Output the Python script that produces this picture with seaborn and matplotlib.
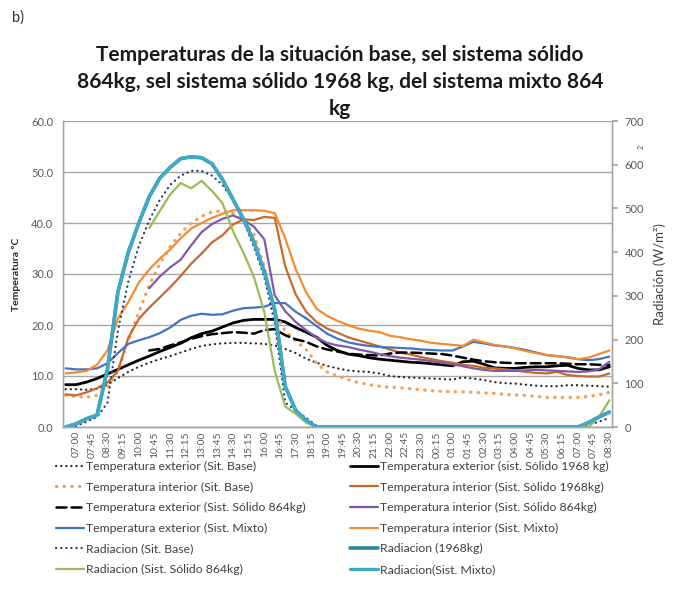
import numpy as np
import matplotlib
matplotlib.use("Agg")
import matplotlib.pyplot as plt
import seaborn as sns

nan = np.nan

# horas cada 30 min, de 06:30 a 08:30 del dia siguiente
horas = ["06:30", "07:00", "07:30", "08:00", "08:30", "09:00", "09:30", "10:00", "10:30",
         "11:00", "11:30", "12:00", "12:30", "13:00", "13:30", "14:00", "14:30", "15:00",
         "15:30", "16:00", "16:30", "17:00", "17:30", "18:00", "18:30", "19:00", "19:30",
         "20:00", "20:30", "21:00", "21:30", "22:00", "22:30", "23:00", "23:30", "00:00",
         "00:30", "01:00", "01:30", "02:00", "02:30", "03:00", "03:30", "04:00", "04:30",
         "05:00", "05:30", "06:00", "06:30", "07:00", "07:30", "08:00", "08:30"]

etiquetas = ["07:00", "07:45", "08:30", "09:15", "10:00", "10:45", "11:30", "12:15", "13:00",
             "13:45", "14:30", "15:15", "16:00", "16:45", "17:30", "18:15", "19:00", "19:45",
             "20:30", "21:15", "22:00", "22:45", "23:30", "00:15", "01:00", "01:45", "02:30",
             "03:15", "04:00", "04:45", "05:30", "06:15", "07:00", "07:45", "08:30"]

# temperaturas (ºC)
t_ext_base = [7.4, 7.4, 7.3, 7.5, 8.3, 9.6, 10.8, 11.8, 12.6, 13.3, 13.9, 14.6, 15.3, 15.9,
              16.2, 16.4, 16.5, 16.5, 16.4, 16.3, 16.0, 15.3, 14.5, 13.4, 12.6, 12.0, 11.5,
              11.1, 10.9, 10.8, 10.5, 10.0, 9.8, 9.7, 9.6, 9.5, 9.4, 9.3, 9.7, 9.5, 9.2, 8.8,
              8.6, 8.5, 8.3, 8.1, 8.0, 8.0, 8.2, 8.2, 8.1, 8.0, 7.9]
t_int_base = [6.2, 6.0, 5.8, 6.2, 7.8, 11.0, 17.0, 22.5, 27.8, 32.0, 35.3, 38.0, 40.0, 41.3,
              42.2, 42.4, 41.9, 40.6, 37.8, 31.5, 22.5, 18.8, 16.9, 15.2, 12.5, 10.8, 10.0,
              9.3, 8.7, 8.3, 8.0, 7.8, 7.7, 7.5, 7.3, 7.1, 7.0, 6.9, 6.9, 6.8, 6.7, 6.6, 6.4,
              6.3, 6.2, 6.0, 5.8, 5.8, 5.8, 5.8, 6.0, 6.3, 6.8]
t_ext_864 = [nan, nan, nan, nan, nan, nan, nan, nan, 15.0, 15.3, 16.0, 16.6, 17.3, 17.8,
             18.2, 18.4, 18.6, 18.5, 18.3, 19.0, 19.2, 18.0, 17.2, 16.7, 15.8, 15.2, 14.8,
             14.4, 14.2, 14.1, 14.0, 14.4, 14.6, 14.6, 14.5, 14.4, 14.3, 14.0, 13.6, 13.2,
             12.9, 12.7, 12.6, 12.5, 12.5, 12.5, 12.5, 12.5, 12.4, 12.3, 12.3, 12.2, 12.2]
t_ext_mixto = [11.5, 11.3, 11.3, 11.5, 12.5, 14.5, 16.3, 17.0, 17.6, 18.4, 19.5, 21.0, 21.8,
               22.2, 22.0, 22.1, 22.8, 23.3, 23.4, 23.6, 24.3, 24.3, 22.6, 21.3, 19.8, 18.3,
               17.3, 16.6, 16.2, 15.9, 15.7, 15.6, 15.5, 15.4, 15.2, 15.1, 15.0, 15.0, 15.8,
               16.7, 16.4, 16.0, 15.8, 15.5, 15.1, 14.6, 14.1, 13.9, 13.7, 13.3, 13.1, 13.3, 13.8]
t_ext_1968 = [8.3, 8.3, 8.8, 9.5, 10.4, 11.3, 12.2, 13.1, 13.9, 14.8, 15.6, 16.4, 17.5, 18.3,
              18.8, 19.6, 20.4, 20.9, 21.1, 21.1, 21.1, 20.6, 19.5, 18.6, 17.6, 16.0, 15.0,
              14.3, 14.0, 13.6, 13.3, 13.1, 12.9, 12.7, 12.6, 12.4, 12.2, 12.0, 12.8, 12.9,
              12.3, 11.6, 11.5, 11.5, 11.7, 11.8, 11.8, 12.0, 12.1, 11.5, 11.2, 11.2, 11.8]
t_int_1968 = [6.4, 6.2, 6.8, 7.6, 8.7, 11.0, 17.5, 21.2, 23.4, 25.4, 27.4, 29.6, 32.0, 34.0,
              36.2, 37.6, 39.7, 40.7, 40.6, 41.2, 41.0, 31.5, 26.0, 22.6, 20.6, 19.3, 18.5,
              17.6, 17.0, 16.4, 15.8, 15.2, 14.6, 14.2, 13.7, 13.3, 12.9, 12.6, 12.2, 12.0,
              11.6, 11.5, 11.3, 11.1, 10.8, 10.6, 10.5, 10.8, 10.2, 10.0, 9.9, 9.9, 10.5]
t_int_864 = [nan, nan, nan, nan, nan, nan, nan, nan, 27.2, 29.5, 31.3, 32.8, 35.6, 38.2, 39.8,
             40.8, 41.5, 40.6, 39.3, 36.8, 25.8, 22.7, 20.6, 19.0, 17.5, 16.5, 16.0, 15.7,
             15.2, 14.8, 14.3, 13.9, 13.6, 13.4, 13.2, 12.9, 12.6, 12.3, 11.9, 11.5, 11.2,
             11.0, 11.0, 11.0, 11.1, 11.2, 11.1, 11.0, 10.9, 10.8, 10.9, 11.3, 12.8]
t_int_mixto = [10.5, 10.7, 11.0, 12.2, 15.0, 21.3, 24.5, 28.3, 30.9, 33.0, 34.8, 37.0, 38.9,
               40.0, 41.0, 41.8, 42.5, 42.5, 42.5, 42.4, 41.9, 37.0, 31.0, 26.4, 23.2, 21.8,
               20.8, 20.0, 19.3, 18.9, 18.6, 17.9, 17.6, 17.2, 16.9, 16.5, 16.3, 16.1, 15.9,
               17.1, 16.6, 16.1, 15.8, 15.4, 14.9, 14.5, 14.1, 13.9, 13.6, 13.3, 13.6, 14.3, 15.0]

# radiacion (W/m2)
rad_base = [0, 2, 12, 23, 55, 220, 333, 414, 473, 519, 554, 575, 586, 586, 575, 554, 519,
            473, 412, 344, 237, 56, 38, 21, 3, 0, 0, 0, 0, 0, 0, 0, 0, 0, 0, 0, 0, 0, 0, 0,
            0, 0, 0, 0, 0, 0, 0, 0, 0, 0, 4, 12, 21]
rad_1968 = [0, 7, 19, 27, 132, 309, 400, 467, 527, 569, 594, 614, 618, 616, 602, 566, 521,
            476, 424, 355, 268, 93, 38, 15, 0, 0, 0, 0, 0, 0, 0, 0, 0, 0, 0, 0, 0, 0, 0, 0,
            0, 0, 0, 0, 0, 0, 0, 0, 0, 0, 10, 23, 34]
rad_864 = [nan, nan, nan, nan, nan, nan, nan, nan, 455, 494, 532, 558, 546, 563, 540, 512,
           448, 399, 344, 263, 128, 47, 30, 10, 0, 0, 0, 0, 0, 0, 0, 0, 0, 0, 0, 0, 0, 0, 0,
           0, 0, 0, 0, 0, 0, 0, 0, 0, 0, 0, 0, 23, 61]
rad_mixto = [0, 7, 19, 27, 132, 309, 400, 467, 527, 569, 594, 614, 618, 616, 602, 566, 521,
             476, 424, 355, 268, 93, 38, 15, 0, 0, 0, 0, 0, 0, 0, 0, 0, 0, 0, 0, 0, 0, 0, 0,
             0, 0, 0, 0, 0, 0, 0, 0, 0, 0, 10, 23, 34]

sns.set_theme(style="white")
plt.rcParams["font.family"] = ["Lato", "DejaVu Sans"]

W, H = 674, 590
fig = plt.figure(figsize=(W / 100, H / 100), dpi=100)
ax = fig.add_axes([63 / W, 1 - 427 / H, (612 - 63) / W, (427 - 121) / H])
ax2 = ax.twinx()

pos = np.arange(len(horas))
dots = (0, (0.1, 2.2))

# (etiqueta, datos, eje, color, estilo, grosor)
series = [
    ("Temperatura exterior (Sit. Base)", t_ext_base, ax, "#262626", dots, 1.6),
    ("Temperatura exterior (sist. Sólido 1968 kg)", t_ext_1968, ax, "#000000", "-", 2.0),
    ("Temperatura interior (Sit. Base)", t_int_base, ax, "#F5A05A", dots, 2.4),
    ("Temperatura interior (Sist. Sólido 1968kg)", t_int_1968, ax, "#C9692A", "-", 1.6),
    ("Temperatura exterior (Sist. Sólido 864kg)", t_ext_864, ax, "#000000", (0, (4, 2)), 1.8),
    ("Temperatura interior (Sist. Sólido 864kg)", t_int_864, ax, "#7F5BA6", "-", 1.6),
    ("Temperatura exterior (Sist. Mixto)", t_ext_mixto, ax, "#4472C4", "-", 1.6),
    ("Temperatura interior (Sist. Mixto)", t_int_mixto, ax, "#F58A2E", "-", 1.6),
    ("Radiacion (Sit. Base)", rad_base, ax2, "#1F3A6E", dots, 1.6),
    ("Radiacion (1968kg)", rad_1968, ax2, "#31859C", "-", 2.6),
    ("Radiacion (Sist. Sólido 864kg)", rad_864, ax2, "#9BBB59", "-", 1.6),
    ("Radiacion(Sist. Mixto)", rad_mixto, ax2, "#3FAAC8", "-", 2.4),
]

handles = {}
for nombre, datos, eje, color, ls, lw in series:
    sns.lineplot(x=pos, y=np.array(datos, dtype=float), ax=eje, color=color,
                 linestyle=ls, linewidth=lw, errorbar=None, legend=False)
    line = eje.lines[-1]
    line.set_dash_capstyle("round")
    handles[nombre] = line

ax.set_xlim(-0.25, len(horas) - 0.75)
ax.set_ylim(0, 60)
ax.set_yticks(np.arange(0, 61, 10))
ax.set_yticklabels([f"{v:.1f}" for v in np.arange(0, 61, 10)])
ax.set_xticks(1 + 1.5 * np.arange(len(etiquetas)))
ax.set_xticklabels(etiquetas, rotation=90)
ax.grid(axis="y", color="#A6A6A6", linewidth=1)
ax.grid(axis="x", visible=False)
ax.tick_params(axis="y", length=0, pad=7, labelsize=8, labelcolor="#595959")
ax.tick_params(axis="x", length=0, pad=3, labelsize=7.4, labelcolor="#595959")
ax.set_xlabel("")
ax.set_ylabel("Temperatura ºC", fontsize=7.5, fontweight="bold", color="#262626", labelpad=7)

ax2.set_ylim(0, 700)
ax2.set_yticks(np.arange(0, 701, 100))
ax2.tick_params(axis="y", length=4, color="#A6A6A6", pad=5, labelsize=8,
                labelcolor="#595959", right=True)
ax2.set_ylabel("Radiación (W/m²)", fontsize=9.5, color="#404040", labelpad=7)
ax2.grid(False)

for a in (ax, ax2):
    for s in a.spines.values():
        s.set_color("#A6A6A6")
        s.set_linewidth(1)
    a.spines["top"].set_visible(False)

fig.text(641 / W, 1 - 147 / H, "2", rotation=90, fontsize=5, color="#404040",
         ha="center", va="center")

titulo = ("Temperaturas de la situación base, sel sistema sólido\n"
          "864kg, sel sistema sólido 1968 kg, del sistema mixto 864\nkg")
fig.text(340 / W, 1 - 82 / H, titulo, ha="center", va="center", fontsize=15,
         fontweight="bold", color="#1A1A1A", linespacing=1.42)
fig.text(12 / W, 1 - 18 / H, "b)", fontsize=10.5, color="#333333", va="center")

izq = [series[i][0] for i in (0, 2, 4, 6, 8, 10)]
der = [series[i][0] for i in (1, 3, 5, 7, 9, 11)]
for col, x0 in ((izq, 56), (der, 350)):
    leg = fig.legend([handles[n] for n in col], col, loc="upper left",
                     bbox_to_anchor=(x0 / W, 1 - 461 / H), frameon=False, fontsize=8.8,
                     handlelength=2.3, handletextpad=0.15, labelspacing=0.78,
                     borderaxespad=0, borderpad=0)
    for t in leg.get_texts():
        t.set_color("#404040")

fig.savefig("out.png", dpi=100)
